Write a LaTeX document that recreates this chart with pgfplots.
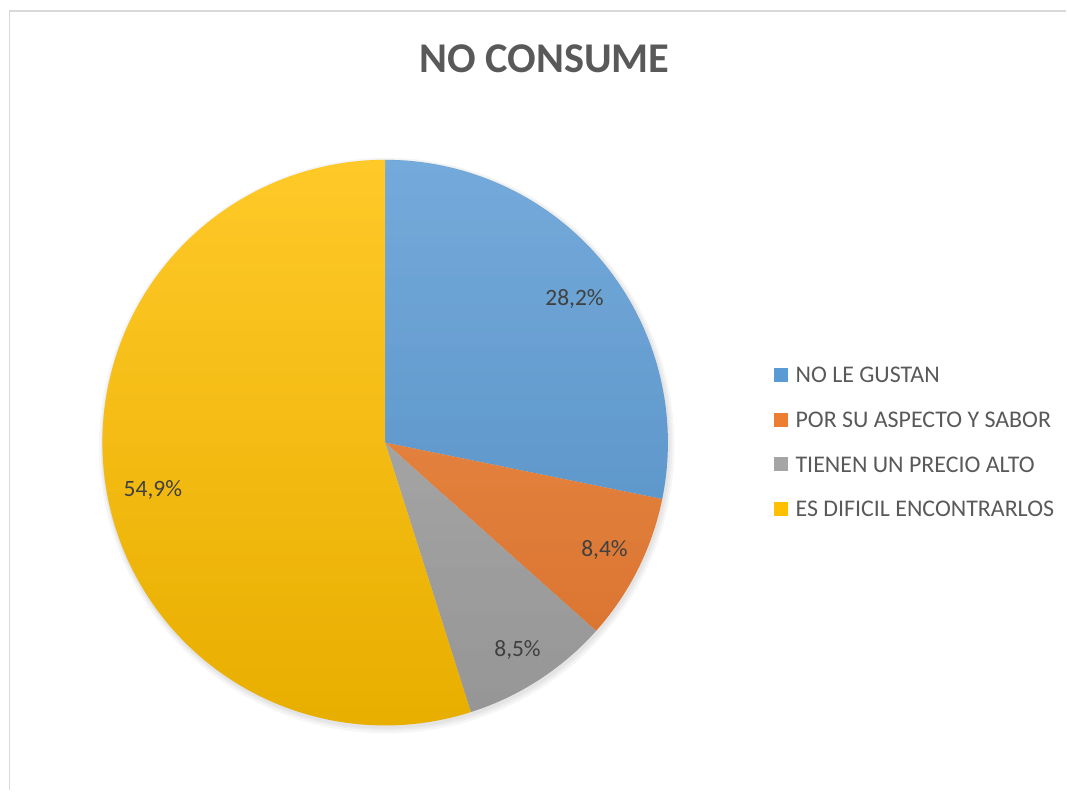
\documentclass[border=0pt]{standalone}
\usepackage{pgfplots}
\pgfplotsset{compat=1.18}
\usepackage{pgfplotstable}
\usetikzlibrary{fadings}
\usepackage{fontspec}
\setmainfont{Carlito}

\definecolor{cBlue}{HTML}{5B9BD5}
\definecolor{cOrange}{HTML}{ED7D31}
\definecolor{cGray}{HTML}{A5A5A5}
\definecolor{cYellow}{HTML}{FFC000}
\definecolor{txt}{HTML}{595959}
\definecolor{lbl}{HTML}{404040}
\definecolor{frame}{HTML}{D9D9D9}

% name; value (%); colour; label x; label baseline y; legend baseline y (pixels, y up)
\pgfplotstableread[col sep=semicolon]{
name;value;color;lx;ly;gy
NO LE GUSTAN;28.2;cBlue;575;485;408
POR SU ASPECTO Y SABOR;8.4;cOrange;605;234;363
TIENEN UN PRECIO ALTO;8.5;cGray;518;134;318.5
ES DIFICIL ENCONTRARLOS;54.9;cYellow;153;294;274
}\piedata

\def\cx{385.5}
\def\cy{348}
\def\rr{212.25pt}

\begin{document}
\begin{tikzpicture}
\begin{axis}[
  scale only axis,
  width=800.25pt, height=593.25pt,
  xmin=0, xmax=1067, ymin=0, ymax=791,
  hide axis, clip=false,
  /pgf/number format/assume math mode=true,
]
\path (axis cs:0,0) rectangle (axis cs:1067,791);
% chart frame
\draw[frame, line width=1.4pt] (axis cs:9.5,0) -- (axis cs:9.5,780) -- (axis cs:1067,780);
% title
\node[anchor=base, text=txt, font=\fontsize{31.8pt}{36pt}\selectfont\bfseries]
  at (axis cs:545,718.7) {NO CONSUME};
% soft shadow
\fill[black, opacity=0.035] (axis cs:387,345) circle[radius=216pt];
\fill[black, opacity=0.035] (axis cs:387,345.5) circle[radius=214.5pt];
\fill[black, opacity=0.04] (axis cs:386.5,346) circle[radius=213.3pt];
% slices
\def\cumangle{90}
\pgfplotsforeachungrouped \i in {0,...,3}{
  \pgfplotstablegetelem{\i}{value}\of\piedata \let\val\pgfplotsretval
  \pgfplotstablegetelem{\i}{color}\of\piedata \let\col\pgfplotsretval
  \pgfmathsetmacro\endangle{\cumangle - 3.6*\val}
  \edef\temp{\noexpand\fill[\col] (axis cs:\cx,\cy) -- ++(\cumangle:\rr)
     arc[start angle=\cumangle, end angle=\endangle, radius=\rr] -- cycle;}
  \temp
  \global\let\cumangle\endangle
}
% vertical gradient overlay
\fill[white, opacity=0.16, path fading=south] (axis cs:\cx,\cy) circle[radius=\rr];
\fill[black, opacity=0.09, path fading=north] (axis cs:\cx,\cy) circle[radius=\rr];
% labels and legend
\pgfplotsforeachungrouped \i in {0,...,3}{
  \pgfplotstablegetelem{\i}{value}\of\piedata \let\val\pgfplotsretval
  \pgfplotstablegetelem{\i}{color}\of\piedata \let\col\pgfplotsretval
  \pgfplotstablegetelem{\i}{name}\of\piedata \let\nm\pgfplotsretval
  \pgfplotstablegetelem{\i}{lx}\of\piedata \let\lx\pgfplotsretval
  \pgfplotstablegetelem{\i}{ly}\of\piedata \let\ly\pgfplotsretval
  \pgfplotstablegetelem{\i}{gy}\of\piedata \let\gy\pgfplotsretval
  \pgfmathsetmacro\sqlo{\gy+1}
  \pgfmathsetmacro\sqhi{\gy+15}
  \edef\temp{%
    \noexpand\node[anchor=base, text=lbl, font=\noexpand\fontsize{17.6pt}{21pt}\noexpand\selectfont]
      at (axis cs:\lx,\ly) {\noexpand\pgfmathprintnumber[fixed, fixed zerofill, precision=1, use comma]{\val}\noexpand\%};
    \noexpand\fill[\col] (axis cs:775,\sqlo) rectangle (axis cs:789,\sqhi);
    \noexpand\node[anchor=base west, inner sep=0pt, text=txt, font=\noexpand\fontsize{17.95pt}{21pt}\noexpand\selectfont]
      at (axis cs:796,\gy) {\nm};
  }%
  \temp
}
\end{axis}
\end{tikzpicture}
\end{document}
